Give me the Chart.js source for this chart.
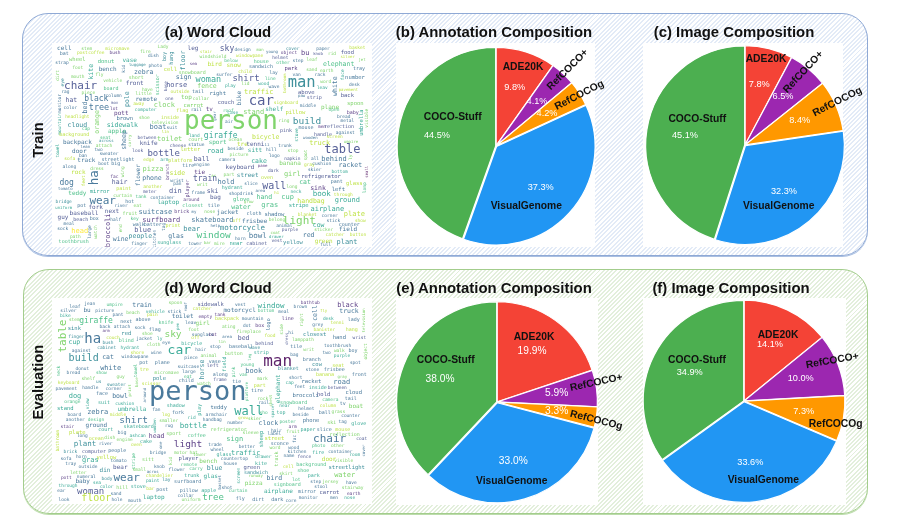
<!DOCTYPE html>
<html><head><meta charset="utf-8">
<script src="https://cdn.jsdelivr.net/npm/chart.js@4"></script>
<style>
html,body{margin:0;padding:0;background:#fff;width:914px;height:527px;overflow:hidden}
#root{position:relative;width:914px;height:527px;font-family:"Liberation Sans",Arial,sans-serif;filter:blur(.4px)}
.panel{position:absolute;box-sizing:border-box;border-radius:26px}
.blue{left:22px;top:13px;width:846px;height:243px;border:1.5px solid #8fa9d5;box-shadow:0 1px 0 #a9bfe2;background:repeating-linear-gradient(135deg,#fff 0 1.6px,#e3ebf7 1.6px 3px)}
.green{left:23px;top:269px;width:845px;height:245px;border:1.5px solid #a3cd8c;box-shadow:0 1px 0 #bcdcab;background:repeating-linear-gradient(135deg,#fff 0 1.6px,#e3efdc 1.6px 3px)}
.white{position:absolute;background:#fff}
.title{position:absolute;transform:translate(-50%,-50%);font-weight:bold;font-size:14.9px;color:#111;white-space:nowrap}
.side{position:absolute;transform:translate(-50%,-50%) rotate(-90deg);font-weight:bold;font-size:14.8px;color:#111;white-space:nowrap}
canvas{position:absolute}
</style></head><body><div id="root"></div>
<script>
const sliceNames = ["ADE20K","RefCOCO+","RefCOCOg","VisualGenome","COCO-Stuff"];
const sliceColors = ["#F44336","#9C27B0","#FF9800","#2196F3","#4CAF50"];
const annotationTrain = [9.8,4.1,4.2,37.3,44.5];
const imageTrain = [7.8,6.5,8.4,32.3,45.1];
const annotationEval = [19.9,5.9,3.3,33.0,38.0];
const imageEval = [14.1,10.0,7.3,33.6,34.9];
const viridis = ["#440154","#482878","#3e4989","#31688e","#26828e","#1f9e89","#35b779","#6ece58","#b5de2b","#fde725"];

// word, cloud-x, cloud-y, weight, colour step, vertical
const cloudTrain = [
["cell",192,146,6,3],["stem",259,146,4.5,7],["micromave",351,148,4.5,8],["fire",435,155,4.5,7],["Lady",488,142,4.5,7],["leg",578,145,6,2],["stair",617,157,4,8],["sky",680,148,8,2],["design",727,151,4.5,3],["man",779,151,4,7],["young",815,156,4,3],["object",866,158,4.5,1],["cover",877,146,4.5,4],["bu",915,159,7,1],["paper",968,146,4.5,3],["basket",1071,143,4.5,8],["bat",192,163,5,3],["post",246,159,4.5,8],["coffee",288,160,4.5,8],["bush",344,160,4.5,1],["knob",953,162,4,2],["rid",995,161,4.5,7],["food",1041,159,5.5,2],["silver",1042,172,4,8],["jet",1085,182,4,7],["dish",459,168,4.5,3],["boy",492,170,5,4,1],["hang",513,175,5.5,4,1],["floor",548,182,6.5,4,1],["windshield",638,170,4.5,7],["windowpane",748,169,4.5,8],["helmet",840,174,4.5,2],["below",692,184,4.5,6],["leaf",935,181,4.5,7],["step",893,184,4.5,3],["wheel",231,180,5.5,7],["donut",317,185,5.5,6],["vase",388,181,6,5],["house",783,185,5,6],["other",848,188,4.5,6],["elephant",1015,193,6.5,6],["strap",185,190,4.5,3],["luggage",411,195,4,4],["photo",465,197,4.5,3],["sea",579,193,4,1],["bird",643,195,6,8],["snow",700,196,6,8],["sandwich",782,201,5,3],["face",1028,225,4.5,5,1],["foot",232,205,4.5,7],["kid",369,207,4.5,3,1],["cell",510,210,5.5,8],["bench",322,208,6,3],["kite",273,216,6.5,5,1],["park",872,207,5.5,1],["sand",934,209,4.5,7],["earth",979,212,4.5,7],["tray",1076,207,5,3],["dirt",171,227,4.5,7,1],["mouth",232,231,4.5,7],["fly",297,225,4.5,7],["zebra",430,218,6.5,3],["snowboard",576,219,5,7],["surfer",672,226,4.5,3],["child",734,216,4.5,8],["lay",820,219,4.5,3],["van",889,225,4.5,3],["rack",959,225,4.5,3],["number",1064,233,5.5,3],["short",408,233,5,7],["sign",550,234,6.5,3],["woman",624,240,8.5,5],["shirt",737,237,9,2],["man",904,251,15.5,4],["line",810,238,4.5,6],["word",976,245,4.5,7],["vehicle",337,242,4.5,7],["scissor",472,255,5,6,1],["chair",241,259,11,2],["white",1006,259,6.5,3,1],["front",403,252,6,2],["horse",529,256,7,2],["lid",735,253,4.5,7],["wood",790,253,4.5,5],["wave",821,262,4.5,3],["desk",1062,256,4.5,3],["fence",620,260,6.5,7],["base",497,259,4,2,1],["board",332,267,5,6],["leav",966,264,4.5,5],["play",690,259,4.5,5],["bathroom",853,250,4,8,1],["pavement",1044,270,4,8],["eye",186,248,4.5,4,1],["rag",195,277,4.5,3],["piece",264,278,4.5,7],["have",441,270,4.5,7],["outside",539,277,4.5,8],["tail",593,277,5,3],["right",652,280,5.5,3],["traffic",775,278,7,8],["above",918,277,5.5,2],["little",430,283,4.5,7],["column",340,287,4.5,3],["monitor",177,311,4.5,3,1],["black",288,297,8,3],["pole",380,298,6.5,4,1],["remote",438,299,6,3],["one",507,298,4.5,2],["top",558,293,6,7],["collar",602,298,4.5,7],["car",783,306,14,2],["bike",716,295,6,3,1],["paw",904,288,4,3],["strip",942,293,5,2],["back",1041,287,5.5,2],["hat",213,301,6.5,2],["away",415,312,4.5,8],["spoon",1065,311,5.5,7],["signboard",857,309,4.5,8],["couch",677,309,5.5,2],["mov",343,310,4,2],["lot",341,326,4.5,1],["clock",492,316,7,7],["carrot",579,318,5.5,7],["plane",989,322,6,7],["bed",256,323,6.5,3,1],["tree",296,323,8.5,3],["middle",923,319,4.5,3],["color",210,325,4.5,3],["computer",436,329,4.5,5],["rail",588,331,4.5,3],["flag",546,332,5,8],["tv",627,329,6,1],["gear",645,348,4,3,1],["roof",684,332,4.5,6],["shelf",822,330,6,5],["stand",760,337,7,7],["open",1001,331,4.5,6],["baby",1057,337,5,1],["case",697,340,4.5,5],["pillow",885,337,5.5,8],["headlight",231,351,4.5,8],["orange",292,366,6.5,7,1],["pott",363,341,6,1],["brown",373,355,5.5,3],["shoe",432,354,4.5,7],["inside",509,353,5,8],["bread",1030,350,4.5,3],["metal",1041,363,4.5,3],["person",692,367,26,7],["build",920,366,9.5,4],["air",686,367,4.5,3],["television",494,368,4.5,7],["ring",851,363,4.5,7],["visible",1100,355,4.5,7,1],["umbrella",1085,368,5.5,5,1],["cloud",231,375,6.5,4],["sidewalk",366,377,6.5,5],["mountain",178,372,4.5,5,1],["boat",473,382,7,3],["suit",515,384,4.5,3],["mouse",917,382,5,3],["men",965,380,4.5,1],["reflection",1016,381,5,2],["cap",257,388,4.5,6],["apple",350,394,6,6],["lin",495,397,4,8],["pink",857,393,5,2],["handle",968,403,5,2],["against",1035,398,4.5,3],["background",222,405,5,8],["stove",888,405,4.5,5,1],["land",582,407,4.5,5],["giraffe",661,408,8,5],["bicycle",796,411,6.5,8],["seat",315,413,4.5,6],["wooden",930,414,4,3],["screen",1003,411,4.5,8],["sheep",372,420,6.5,3,1],["between",440,414,4.5,2],["toilet",508,417,7,7],["court",586,418,5,7],["across",318,424,4,4],["ocean",705,420,4.5,7],["carry",390,422,4,7,1],["umpire",1052,425,4,7],["backpack",231,427,6,3],["truck",958,430,7,8],["knife",445,430,6,2],["sport",652,428,6,6],["tre",726,434,6,8],["tenni",765,434,6,2],["ii",800,434,4,3],["attach",311,436,4.5,7],["statue",588,433,4.5,3],["cheese",533,436,4.5,2],["trunk",854,436,4.5,3],["table",1026,451,12,2],["lean",255,442,4,3],["two",295,450,4.5,3],["beside",706,447,4.5,3],["sitt",764,451,6,5],["hill",813,448,4.5,3],["stop",878,452,4.5,7],["door",237,454,6,3],["look",412,453,4.5,2],["letter",570,450,5.5,8],["road",645,453,7,5],["spot",917,465,4.5,7,1],["bottle",490,462,9,2],["towel",171,452,4.5,5,1],["sweater",326,462,4.5,3],["picture",716,465,4.5,7],["logo",822,468,4.5,3],["ly",1051,472,4.5,7,1],["sofa",208,475,4.5,8],["ban",248,468,4.5,3],["streetlight",353,478,5,3],["all",944,477,4.5,3],["napkin",876,475,4.5,2],["behind",1001,478,7,3],["edge",445,478,4.5,8],["arm",492,478,4.5,5],["platform",540,482,5,8],["ball",604,478,6.5,2],["camera",680,480,4.5,3],["track",258,482,6,3],["banana",869,490,6,7],["cake",776,484,6.5,5],["gray",927,493,4.5,8],["cushion",964,492,4.5,3],["big",346,491,5,3],["boot",310,492,4.5,3],["dress",290,506,4.5,7],["along",207,501,4.5,3],["racket",1050,497,6.5,3],["engine",604,493,4.5,3],["tire",564,498,5,3],["pane",787,497,4,1],["keyboard",719,501,6,2],["flower",413,525,6,3,1],["pizza",458,508,7,7],["skier",943,510,4.5,3],["branch",503,515,4.5,1,1],["bottom",1018,514,4.5,5],["dark",819,513,4.5,2],["small",1100,515,4,0,1],["rock",234,517,6,8],["tie",598,517,6,1],["side",531,519,6.5,8],["street",742,525,6,4],["part",686,525,4.5,7],["girl",876,522,7,7],["ha",284,533,12.5,3,1],["fac",342,531,4.5,1],["wing",367,515,4.5,7,1],["refrigerator",962,528,5.5,2],["phone",455,535,6.5,3],["as",640,527,4,7],["oven",800,532,5,8],["feet",249,542,4.5,8,1],["train",614,536,8,2],["wrist",530,541,4.5,3],["hold",677,546,7,3],["pant",1009,546,5,3],["glass",1062,549,5.5,8],["cat",914,546,6.5,6],["hair",358,548,6.5,2],["dog",199,547,8,3],["writ",606,553,4.5,7],["slice",752,550,4.5,3],["pan",531,552,4.5,3],["long",875,559,4.5,7],["wall",822,560,10,2],["player",563,565,5,1,1],["sink",953,564,6.5,1],["hydrant",696,564,5,5],["paint",370,565,5,8],["another",457,560,4.5,8],["tomato",195,567,4,3],["lamp",1092,563,4.5,6,1],["left",1014,569,5.5,3],["din",525,572,7,2],["meter",448,575,4.5,2],["frame",594,577,4.5,3],["ski",637,574,6.5,2],["shop",702,582,4.5,3],["drink",738,581,4.5,3],["area",780,572,4,3],["hi",829,577,4,8],["neck",887,576,4.5,5],["mirror",298,574,5.5,5],["teddy",231,580,6,6],["book",964,583,7.5,5],["through",1029,583,4.5,8],["cup",862,590,7,6],["curtain",367,587,4.5,7],["tank",422,589,4.5,6],["container",486,592,4.5,3],["hand",792,592,6.5,6],["bag",645,593,6,2],["around",573,600,4.5,1],["ground",1041,600,7,5],["glove",723,599,5.5,6],["handbag",932,602,6.5,8],["wear",307,602,11,3],["bridge",190,604,4.5,4],["grow",745,606,4,7],["hot",388,604,5,3],["laptop",504,608,6,5],["gras",808,615,7,6],["closest",577,618,5,6],["eat",412,617,4.5,7],["river",362,617,4.5,3],["tile",640,617,5,3],["uniform",190,623,4,5],["stripe",895,617,5.5,5],["pot",244,618,5,3],["fork",286,622,6,2],["water",722,621,6.5,6],["airplane",981,626,7,5],["next",335,633,6,2],["brick",544,633,5,1],["my",581,634,4,3],["nose",628,634,4.5,7],["suitcase",465,637,7,3],["fruit",389,641,5,7],["jacket",682,637,6,3],["cloth",761,639,5,3],["baseball",251,639,6,2],["shadow",822,643,5.5,3],["plate",1062,643,7,8],["blanket",921,644,4.5,8],["corner",988,647,4.5,3],["guy",188,652,6,2],["beach",241,658,5,2],["box",282,654,5,3],["broccoli",323,690,7,1,1],["half",346,660,4.5,3],["key",403,657,4.5,6],["surfboard",483,659,7,1],["skateboard",636,659,7,3],["off",709,661,4.5,8],["frisbee",763,664,6,3],["light",897,662,11,7],["stick",999,661,4.5,3],["show",1080,661,4.5,8],["belong",830,659,4.5,7],["meal",206,672,4.5,3],["walk",415,673,5,3],["batter",457,673,5,3],["print",518,675,5,8],["help",645,678,4,3],["motorcycle",726,684,7.5,4],["animal",852,677,4.5,3],["counter",1047,673,5,3],["cow",955,674,6.5,5],["sock",187,687,4.5,3],["large",268,695,4.5,3,1],["watch",285,695,4.5,7,1],["head",238,692,7,9],["end",361,684,4.5,7,1],["tag",490,680,4.5,3,1],["blue",427,689,7,2],["bear",574,687,7,4],["purple",869,690,4.5,2],["sticker",970,689,4.5,7],["field",1043,688,6,3],["coat",825,698,4,7],["catcher",1004,703,4.5,8],["button",1073,703,4.5,8],["path",225,709,4.5,7],["people",420,708,6.5,4],["kitchen",463,717,4.5,3,1],["glas",527,707,6.5,3],["window",640,705,9.5,6],["bowl",772,708,7.5,3],["drawer",828,709,4,5],["red",925,706,6.5,3],["wine",361,718,6.5,3],["horn",720,717,4.5,3],["vest",830,722,4.5,2],["green",970,722,6,8],["plant",1040,725,7,4],["toothbrush",220,725,5,6],["finger",417,730,4.5,3],["sunglass",507,727,5,5],["tower",584,731,4.5,3],["bar",621,728,4,7],["mire",657,732,4.5,7],["near",707,730,5.5,5],["cabinet",769,730,5,2],["yellow",878,727,5.5,4],["full",976,734,4.5,3]
];
const cloudEval = [
["jean",268,126,4.5,3],["leaf",224,134,4.5,3],["umpire",343,128,4.5,6],["train",425,130,6.5,3],["spoon",525,122,4.5,7],["roof",556,135,4,3,1],["sidewalk",631,128,5.5,2],["vest",720,127,4.5,3],["window",812,131,7.5,5],["brown",900,133,4.5,3],["bathtub",930,123,4.5,1],["black",1042,131,7,1],["silver",204,147,4.5,3],["bu",260,145,6,3],["picture",313,145,4.5,3],["beach",398,151,4.5,7],["catcher",605,141,4.5,8],["vehicle",465,148,4.5,5],["stick",522,149,4.5,3],["motorcycl",718,144,6,3],["bottom",797,147,4.5,6],["meal",850,150,4.5,3],["cell",944,153,6.5,3,1],["fly",970,146,4,8],["truck",1046,149,6.5,3],["television",1090,175,4,7,1],["bike",195,160,4.5,5],["pant",353,158,4.5,3],["pain",456,159,4.5,8],["toilet",547,162,6,3],["empty",615,164,4.5,1],["tank",659,157,4.5,1],["backpack",680,169,5,8],["mountain",757,170,4.5,3],["line",862,171,5,1],["right",905,174,4.5,7,1],["grey",952,187,4.5,3],["desk",984,169,4.5,5],["lady",1060,173,5,3],["stem",222,174,4.5,7],["next",378,178,5,3],["above",428,173,5,3],["giraffe",287,177,8,6],["table",187,222,11,7,1],["knife",497,181,5,6],["leav",571,183,4.5,3],["girl",607,184,6,7],["logo",806,187,5,3,1],["tenni",1011,183,4.5,8],["sink",222,199,5.5,4],["back",314,194,4.5,3],["attach",365,194,4.5,3],["sock",419,198,4.5,3],["flag",463,204,5,3],["ating",685,195,4.5,7],["dot",740,191,4.5,3],["box",778,190,5,1],["side",844,202,4.5,7,1],["pen",534,193,4,5,1],["arm",317,208,4,1],["foot",580,204,4.5,7],["fireplace",745,209,4.5,7],["food",809,220,4.5,8],["hi",872,211,4.5,3],["banister",972,204,4.5,8],["dress",859,230,4,2,1],["hang",1054,203,5,8],["finger",228,224,4.5,4],["sky",518,217,9.5,7],["sunglass",607,217,4.5,3],["bat",638,219,4.5,1],["closest",943,218,5.5,4],["couch",338,228,4.5,8],["red",378,216,5.5,4],["shoe",441,216,4.5,7],["off",585,227,4.5,8],["area",680,226,4,3],["bed",730,229,6.5,2],["hand",1017,227,5.5,3],["wrist",1077,226,4.5,2],["ha",277,233,14,3],["cup",222,242,6.5,5],["bush",323,243,4.5,4],["blind",378,235,5,6],["jacket",432,231,4.5,3],["ly",478,229,4.5,5],["eye",498,243,4.5,3],["cloth",460,247,4.5,7],["bicycle",574,244,5,5],["lin",665,241,4,7],["stop",645,253,4.5,3],["lamppath",908,234,4.5,7],["behind",792,245,5,2],["toothbrush",1012,251,4.5,3],["cabinet",319,257,4.5,4],["hydrant",389,258,4.5,5],["hair",601,262,4.5,3],["baseball",722,255,5,3],["wave",763,256,4.5,4],["tile",888,254,5,3],["writ",925,262,4.5,7],["against",243,265,4.5,3],["car",537,266,13,5],["leg",750,285,4,6,1],["button",700,275,5,7],["strip",783,272,5,5],["two",979,273,4.5,3],["walk",1017,267,4.5,7],["boy",1058,267,5,3],["object",1095,268,4.5,7,1],["shore",411,272,4.5,8],["wine",468,273,4.5,3],["bag",882,277,4.5,3],["purple",1025,281,4.5,5],["animal",625,280,4.5,7],["build",250,288,10,4],["cat",323,286,6.5,3],["windowpane",404,285,4.5,3],["piece",572,288,4.5,3],["man",832,300,16,0],["branch",934,292,5,3],["pot",430,302,5,3],["plane",486,303,5,3],["horse",607,322,6.5,4,1],["vase",643,299,5,3],["field",672,306,5,5,1],["young",741,307,4.5,6],["pink",701,330,4.5,6,1],["cow",950,306,5.5,4],["spot",1065,303,4.5,3],["seat",1014,310,5,8],["white",331,317,7,3],["towel",405,325,4.5,6,1],["suitcase",564,313,4.5,3],["left",637,310,5,2],["blanket",864,319,5,4],["stone",936,322,4.5,3],["frisbee",1002,324,5,3],["donut",246,319,4.5,3],["tre",432,323,5,8],["micromave",499,333,4.5,7],["large",566,329,4.5,3],["book",760,327,7,3],["bread",219,333,4.5,3],["show",303,332,4.5,6],["along",660,339,5,3],["van",729,339,4.5,6],["banana",974,337,5,8],["front",1077,339,5,3],["neck",174,327,4.5,6,1],["pole",477,350,5.5,4],["eat",563,343,4.5,6],["child",558,356,5,3],["frame",659,354,4.5,2],["tie",709,359,5,3],["mark",786,351,4.5,7],["gray",1026,343,4,7],["guy",361,345,4.5,7],["shelf",264,351,4.5,7],["short",886,346,4.5,3],["cap",868,361,4.5,5],["racket",933,358,5.5,3],["road",1024,360,7,3],["us",295,360,4.5,4],["base",411,360,4,7,1],["keyboard",205,363,4.5,8],["scissor",453,366,4.5,8],["watch",611,365,4.5,7],["part",778,370,5,8],["feet",898,373,4.5,3],["inside",952,378,5,5],["between",1011,376,4.5,2],["sweater",348,367,4.5,4],["pavement",198,381,4.5,3],["handle",270,378,4.5,3],["corner",340,379,4.5,3],["print",390,385,4,7,1],["person",592,391,27,3],["tire",770,386,5,3],["elephant",833,380,6,5,1],["platform",741,388,4,6,1],["cloud",1060,391,5.5,3],["face",305,396,5,3],["dog",224,401,7,5],["bowl",359,401,6.5,3],["around",435,399,4,3,1],["broccoli",916,401,5.5,3],["hold",970,396,5.5,2],["tail",1051,411,5,3],["orange",216,419,4.5,6],["rock",787,410,4.5,7],["chest",813,415,4,7,1],["camera",990,414,4.5,6],["snowboard",880,421,5,6],["rail",790,422,4.5,3],["near",853,432,4.5,5],["tv",1027,425,5,3],["suit",311,422,5,5],["cushion",373,426,4.5,5],["column",983,432,4.5,8],["boat",1067,433,6,7],["view",262,425,4.5,5,1],["stand",195,438,5.5,5],["shadow",526,431,5,5],["teddy",655,435,5.5,3],["fan",468,444,4.5,3],["umbrella",395,443,6,5],["helmet",918,441,4.5,3],["play",599,443,5,5,1],["wall",745,450,12,5],["ball",973,452,5,3],["zebra",292,450,7,3],["fork",533,453,5,3],["spacer",817,445,4,5,1],["top",842,453,5,5],["sho",790,453,4.5,6],["beside",901,458,4.5,3],["grass",1014,449,4.5,7],["armchair",648,459,4.5,3],["board",222,459,4.5,3],["middle",353,458,4.5,8],["counter",1051,460,4.5,3],["log",497,459,4.5,8],["rid",574,468,4.5,5],["handbag",636,473,4.5,3],["another",225,472,4.5,3],["design",287,473,4.5,6],["shirt",400,476,9.5,3],["smaller",505,476,4.5,7],["grow",728,466,4,8],["skier",763,471,4.5,7],["number",705,483,4.5,3],["poster",862,478,4.5,6],["phone",932,476,5.5,3],["ski",994,483,5,7],["tag",1027,479,4.5,3],["glove",1075,484,5,5],["ground",288,489,6,3],["wooden",464,490,4,5,1],["rug",506,491,4.5,3],["bottle",579,493,7.5,5],["clock",804,484,6.5,3],["skateboard",415,493,5,5],["stair",201,494,4.5,1],["arm",877,495,4.5,1],["mouse",1027,503,5,8],["hair",828,505,4.5,3],["paper",923,503,5,5],["slice",972,503,5,3],["court",316,503,5,5],["refrigerator",685,502,5,7],["bathroom",172,535,4.5,8,1],["plate",231,510,5.5,8],["big",365,510,5,3],["label",822,516,4.5,3],["fruit",878,508,4.5,7],["sport",520,513,5,7],["sleeve",751,513,4.5,7],["sheep",785,530,5.5,5,1],["reflection",1033,518,5,7],["ashcan",412,520,4.5,5],["long",246,522,4.5,3],["head",469,522,6.5,1],["coffee",589,520,5,6],["dish",328,526,4.5,7],["ocean",288,529,5,8],["street",822,529,5.5,8],["sign",703,531,7,6],["chair",988,531,11,3],["coat",1084,529,4.5,2],["fac",884,530,4.5,3,1],["engine",373,534,4.5,7],["cake",437,538,5,5],["plant",254,546,7.5,4],["river",316,545,4.5,3],["light",563,546,9.5,1],["one",482,549,4,3,1],["oven",408,548,4.5,8],["trade",644,547,4.5,3],["sconce",838,545,5,3],["better",740,553,4.5,3],["photo",955,551,4.5,6],["other",1012,552,4.5,7],["cover",1092,565,4,3,1],["word",824,558,4.5,7],["wood",880,557,4.5,3],["brick",210,568,4.5,4],["computer",281,568,5,2],["people",351,566,5,3],["yellow",318,585,5.5,8],["wheel",651,564,4.5,3],["kitchen",890,568,4.5,3],["traffic",736,572,7,5],["fire",954,572,5,5],["container",1020,568,4.5,3],["bridge",473,573,4.5,3],["motor",541,573,4.5,7],["player",564,590,5.5,2],["tower",598,579,4.5,7],["glass",671,577,5,5],["name",866,580,4.5,3],["fence",912,585,4.5,2],["room",1063,578,4.5,5],["visible",1030,596,4.5,7],["horn",243,583,4.5,3],["hat",580,571,4.5,7],["countertop",702,590,4.5,3],["drawer",789,585,4.5,5],["track",828,590,5,7,1],["door",986,592,6,8],["sofa",197,590,4.5,3],["gras",270,594,7,5],["tomato",355,596,4.5,3],["sitt",443,592,5,7],["stripe",400,597,4.5,6,1],["bench",624,599,6,7],["house",690,604,4.5,3],["kite",782,604,5,5],["tray",211,604,4.5,3],["outside",263,614,4.5,3],["din",314,625,6,4],["bear",360,615,6,2],["knob",477,615,4.5,3],["kid",510,596,4.5,7,1],["remote",566,607,4.5,6],["green",754,615,5.5,2],["background",933,606,5,6],["streetlight",1039,615,5.5,4],["blue",643,619,6.5,4],["letter",234,631,4.5,7],["small",417,624,4.5,7],["acros",457,628,4,3],["flower",529,624,4.5,3],["carry",587,619,4.5,6],["cell",864,615,4.5,8],["shoe",909,625,5,6],["sandwich",767,631,5,4],["skirt",857,634,4.5,7],["basket",660,660,4,3,1],["screen",716,640,4.5,5,1],["pott",198,646,4.5,1],["numeral",258,644,4.5,3],["chandelier",477,640,4.5,8],["trunk",574,640,5,5],["glas",631,641,6,5],["runway",766,642,4,7],["park",940,640,5,5],["water",1033,640,7,7],["wear",379,648,11,3],["bird",822,648,6.5,3],["lot",888,654,4.5,6],["baby",247,657,6,3],["body",320,651,4.5,4],["paint",457,656,4.5,5],["lay",498,654,4.5,4],["surfboard",562,657,5,3],["pizza",760,662,6,7],["step",946,660,4.5,3],["jersey",990,660,4.5,7],["have",1053,663,4.5,3],["sea",290,661,4.5,5],["signboard",861,667,5,6],["stairway",1057,678,4.5,7],["through",203,670,4.5,5],["color",319,675,4.5,5],["hill",366,677,5,7],["stove",414,672,5,5],["shot",680,676,4.5,3],["stool",962,675,4.5,3],["ear",183,685,4.5,3],["bar",450,681,4.5,8],["post",486,682,5,3],["pillow",565,684,5,3],["apple",625,684,5,5],["curtain",713,687,4.5,6],["airplane",834,686,6,5],["mirror",920,688,5,3],["carrot",987,691,5.5,2],["woman",271,688,9,2],["sand",347,696,4.5,3],["earth",1060,696,4.5,1],["collar",556,700,4.5,3],["floor",288,709,10,8],["hole",350,714,4.5,3],["mouth",403,715,4.5,3],["look",191,713,4.5,3],["laptop",460,706,6,5],["uniform",572,713,4.5,7],["tree",638,707,9,6],["fly",720,710,5,3],["dirt",774,711,5,3],["dark",831,711,5,3],["core",872,715,4.5,3],["monitor",924,708,4.5,3],["men",1001,708,4.5,3],["nose",1048,707,4.5,5]
];

// layout (kept apart from the data above)
const root = document.getElementById('root');
function el(cls, css, text){const d=document.createElement('div');d.className=cls;Object.assign(d.style,css);if(text)d.textContent=text;root.appendChild(d);return d;}
el('panel blue',{});
el('panel green',{});
[[52,43,320,204],[52,298,320,206],[396,43,199,204],[643,43,200,204],[396,298,202,207],[643,298,203,207]].forEach(r=>el('white',{left:r[0]+'px',top:r[1]+'px',width:r[2]+'px',height:r[3]+'px'}));
[["(a) Word Cloud",218,32],["(b) Annotation Composition",494,32],["(c) Image Composition",734,32],["(d) Word Cloud",218,288],["(e) Annotation Composition",494,288],["(f) Image Composition",731,288]]
 .forEach(t=>el('title',{left:t[1]+'px',top:t[2]+'px'},t[0]));
el('side',{left:'38px',top:'140px'},'Train');
el('side',{left:'38px',top:'382px'},'Evaluation');

function canvasAt(x,y,w,h){const c=document.createElement('canvas');c.width=w;c.height=h;c.style.cssText=`left:${x}px;top:${y}px;width:${w}px;height:${h}px`;root.appendChild(c);return c;}

const wordPlugin={id:'words',afterDatasetsDraw(chart){
  const ctx=chart.ctx,meta=chart.getDatasetMeta(0),rows=chart.data.datasets[0].data;
  ctx.save();ctx.textAlign='center';ctx.textBaseline='middle';ctx.globalAlpha=.88;
  meta.data.forEach((p,i)=>{const r=rows[i];
    ctx.save();ctx.translate(p.x,p.y);if(r.vertical)ctx.rotate(-Math.PI/2);
    ctx.font=r.weight+'px "DejaVu Sans Mono",monospace';ctx.fillStyle=viridis[r.tone];ctx.fillText(r.word,0,0);ctx.restore();});
  ctx.restore();}};

function cloud(rows,rect,range){
  new Chart(canvasAt(...rect),{type:'scatter',plugins:[wordPlugin],
    data:{datasets:[{data:rows.map(r=>({word:r[0],x:r[1],y:r[2],weight:r[3],tone:r[4],vertical:!!r[5]})),pointRadius:0}]},
    options:{responsive:false,animation:false,layout:{padding:0},plugins:{legend:{display:false},tooltip:{enabled:false}},
      scales:{x:{display:false,min:range[0],max:range[1]},y:{display:false,reverse:true,min:range[2],max:range[3]}}}});
}
cloud(cloudTrain,[52,43,320,204],[155,1115,130,740]);
cloud(cloudEval,[52,298,320,206],[155,1115,108,725]);

const piePlugin={id:'pieLabels',afterDatasetsDraw(chart,args,o){
  const ctx=chart.ctx,arc=chart.getDatasetMeta(0).data[0],vals=chart.data.datasets[0].data;
  ctx.save();ctx.textAlign='center';ctx.textBaseline='middle';
  o.spots.forEach((s,i)=>{
    ctx.save();ctx.translate(arc.x+s[2],arc.y+s[3]);ctx.fillStyle='#fff';ctx.font=o.pct+'px "Liberation Sans",Arial,sans-serif';ctx.fillText(vals[i].toFixed(1)+'%',0,0);ctx.restore();
    ctx.save();ctx.translate(arc.x+s[0],arc.y+s[1]);ctx.rotate((s[4]||0)*Math.PI/180);ctx.fillStyle='#111';ctx.font='bold 10.3px "Liberation Sans",Arial,sans-serif';ctx.fillText(chart.data.labels[i],0,0);ctx.restore();
  });
  ctx.restore();}};

function pie(values,cx,cy,R,pct,spots){
  const W=320,H=250,off=3,bw=1.2,side=2*R+bw+off;
  new Chart(canvasAt(cx-W/2,cy-H/2,W,H),{type:'pie',plugins:[piePlugin],
    data:{labels:sliceNames,datasets:[{data:values,backgroundColor:sliceColors,borderColor:'#fff',borderWidth:bw,offset:[1.2,1,1,off,1.2]}]},
    options:{responsive:false,animation:false,layout:{padding:{left:(W-side)/2,right:(W-side)/2,top:(H-side)/2,bottom:(H-side)/2}},
      plugins:{legend:{display:false},tooltip:{enabled:false},pieLabels:{pct,spots}}}});
}
// name dx, name dy, percent dx, percent dy, name tilt
pie(annotationTrain,495.7,145.5,98.3,9.2,[[27,-79.3,18.7,-58.3],[71.7,-76.3,41,-45,-45],[83.3,-50.7,51,-33,-27],[30.3,60.3,44.7,41.7],[-43.3,-29.3,-59,-10.3]]);
pie(imageTrain,745,145,98.8,9.2,[[21,-86,14.3,-60.7],[58.3,-73,38,-48.3,-47],[92.3,-43.3,54.7,-25,-27],[33.7,61,39,46.3],[-47.7,-26,-60,-10]]);
pie(annotationEval,496.7,402,100,10.2,[[37,-64.7,35,-51],[99.3,-19.3,59.7,-9,-12],[99.3,18.3,59.7,8.7,14],[14.7,78.7,16.3,59],[-51.3,-41.7,-57,-23.3]]);
pie(imageEval,744.3,401.3,100.5,9.2,[[34,-66.3,26,-56.7],[88.3,-40.3,56.7,-22.7,-10],[91.7,22.7,59.7,10.7],[19.3,79.3,6.3,61.7],[-47,-41,-54.3,-28.7]]);
</script></body></html>
